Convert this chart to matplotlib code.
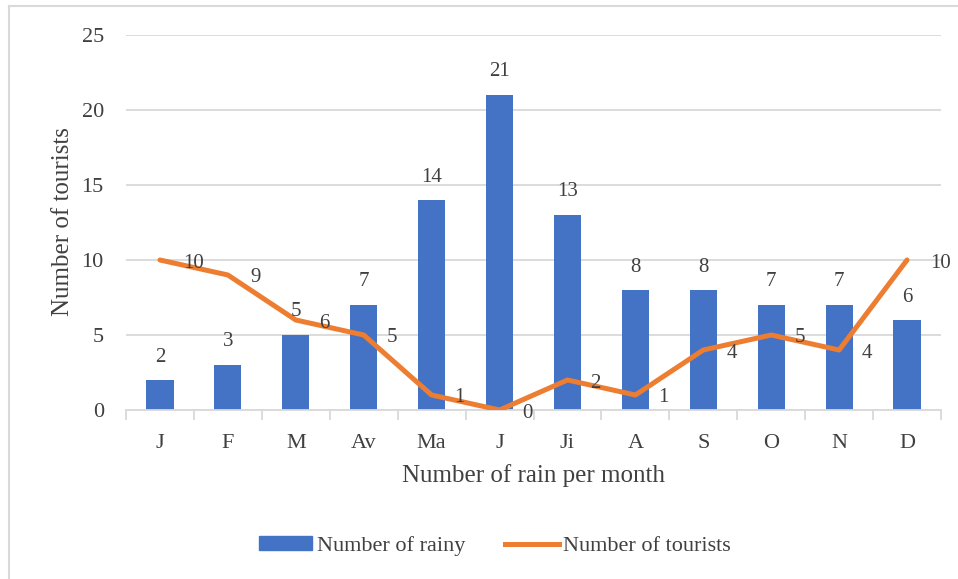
import matplotlib.pyplot as plt
import numpy as np
from matplotlib.lines import Line2D

# data
months = ["J", "F", "M", "Av", "Ma", "J", "Ji", "A", "S", "O", "N", "D"]
rainy = [2, 3, 5, 7, 14, 21, 13, 8, 8, 7, 7, 6]
tourists = [10, 9, 6, 5, 1, 0, 2, 1, 4, 5, 4, 10]
y_ticks = [0, 5, 10, 15, 20, 25]

BLUE = "#4472C4"
ORANGE = "#ED7D31"
TEXT = "#404040"
GRID = "#D9D9D9"

plt.rcParams['font.family'] = ['Liberation Serif', 'DejaVu Serif']

fig = plt.figure(figsize=(9.58, 5.79), dpi=100)
W, H = 958, 579
ax = fig.add_axes([126 / W, 1 - 410 / H, (941 - 126) / W, (410 - 35) / H])

x = np.arange(len(months))
ax.bar(x, rainy, width=0.4, color=BLUE, zorder=2)
ax.plot(x, tourists, color=ORANGE, linewidth=3.6, solid_joinstyle='round',
        solid_capstyle='round', zorder=3)

# data labels
for xi, v in zip(x, rainy):
    ax.annotate(str(v), (xi, v), xytext=(0, 23), textcoords='offset pixels',
                ha='center', va='center', fontsize=15, color=TEXT, zorder=4)
for xi, v in zip(x, tourists):
    ax.annotate(str(v), (xi, v), xytext=(23, -3), textcoords='offset pixels',
                ha='left', va='center', fontsize=15, color=TEXT, zorder=4)

ax.set_xlim(-0.5, len(months) - 0.5)
ax.set_ylim(0, 25)
ax.set_yticks(y_ticks)
ax.set_xticks(x)
ax.set_xticklabels(months)
ax.set_xticks(np.arange(-0.5, len(months), 1.0), minor=True)
ax.tick_params(axis='x', which='major', length=0, pad=17, labelsize=16, labelcolor=TEXT)
ax.tick_params(axis='x', which='minor', length=7, width=1.3, color=GRID)
ax.tick_params(axis='y', length=0, pad=16, labelsize=16, labelcolor=TEXT)

ax.yaxis.grid(True, color=GRID, linewidth=1.3, zorder=0)
ax.set_axisbelow(True)
for side in ['top', 'right', 'left']:
    ax.spines[side].set_visible(False)
ax.spines['bottom'].set_color(GRID)
ax.spines['bottom'].set_linewidth(1.3)

fig.text(534 / W, 1 - 476 / H, "Number of rain per month", ha='center', va='center',
         fontsize=18, color=TEXT)
fig.text(63 / W, 1 - 222 / H, "Number of tourists", ha='center', va='center',
         rotation=90, fontsize=18, color=TEXT)

handles = [plt.Rectangle((0, 0), 1, 1, color=BLUE),
           Line2D([0], [0], color=ORANGE, linewidth=3.6)]
fig.legend(handles, ["Number of rainy", "Number of tourists"], loc='center',
           bbox_to_anchor=(495 / W, 1 - 546 / H), ncol=2, frameon=False,
           fontsize=16, handlelength=2.4, handleheight=0.6, handletextpad=0.2,
           columnspacing=1.8, labelcolor=TEXT)

# light frame around the chart
fig.add_artist(Line2D([9 / W, 9 / W], [0, 1 - 6 / H], color=GRID, linewidth=1.5))
fig.add_artist(Line2D([9 / W, 1], [1 - 6 / H, 1 - 6 / H], color=GRID, linewidth=1.5))

fig.savefig("out.png", dpi=100)
